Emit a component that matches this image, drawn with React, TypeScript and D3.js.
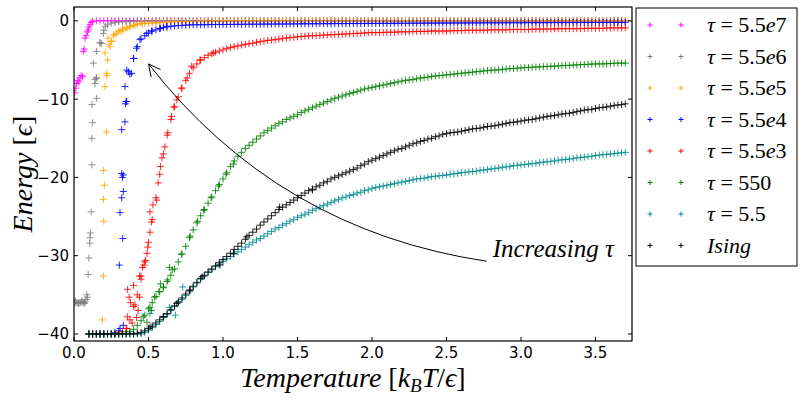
import React from "react";
import * as d3 from "d3";

// ---------- DATA ----------
const TEMPS = [
  0.1, 0.15, 0.2, 0.25, 0.3, 0.35, 0.4, 0.45, 0.5, 0.55, 0.6, 0.65, 0.7, 0.75, 0.8, 0.85, 0.9, 0.95,
  1.0, 1.05, 1.1, 1.15, 1.2, 1.25, 1.3, 1.35, 1.4, 1.45, 1.5, 1.55, 1.6, 1.65, 1.7, 1.75, 1.8, 1.85,
  1.9, 1.95, 2.0, 2.05, 2.1, 2.15, 2.2, 2.25, 2.3, 2.35, 2.4, 2.45, 2.5, 2.55, 2.6, 2.65, 2.7, 2.75,
  2.8, 2.85, 2.9, 2.95, 3.0, 3.05, 3.1, 3.15, 3.2, 3.25, 3.3, 3.35, 3.4, 3.45, 3.5, 3.55, 3.6, 3.65, 3.7,
];
const TEMPS_HALF = [
  0.125, 0.175, 0.225, 0.275, 0.325, 0.375, 0.425, 0.475, 0.525, 0.575, 0.625, 0.675, 0.725, 0.775, 0.825, 0.875, 0.925, 0.975,
  1.025, 1.075, 1.125, 1.175, 1.225, 1.275, 1.325, 1.375, 1.425, 1.475, 1.525, 1.575, 1.625, 1.675, 1.725, 1.775, 1.825, 1.875,
  1.925, 1.975, 2.025, 2.075, 2.125, 2.175, 2.225, 2.275, 2.325, 2.375, 2.425, 2.475, 2.525, 2.575, 2.625, 2.675, 2.725, 2.775,
  2.825, 2.875, 2.925, 2.975, 3.025, 3.075, 3.125, 3.175, 3.225, 3.275, 3.325, 3.375, 3.425, 3.475, 3.525, 3.575, 3.625, 3.675,
];

// tau = 5.5e7 (magenta)
const E_TAU_55E7 = [
  -0.8, 0, 0, 0, 0, 0, 0, 0, 0, 0, 0, 0, 0, 0, 0, 0, 0, 0,
  0, 0, 0, 0, 0, 0, 0, 0, 0, 0, 0, 0, 0, 0, 0, 0, 0, 0,
  0, 0, 0, 0, 0, 0, 0, 0, 0, 0, 0, 0, 0, 0, 0, 0, 0, 0,
  0, 0, 0, 0, 0, 0, 0, 0, 0, 0, 0, 0, 0, 0, 0, 0, 0, 0, 0,
];
const EH_TAU_55E7 = [
  -0.05, 0, 0, 0, 0, 0, 0, 0, 0, 0, 0, 0, 0, 0, 0, 0, 0, 0,
  0, 0, 0, 0, 0, 0, 0, 0, 0, 0, 0, 0, 0, 0, 0, 0, 0, 0,
  0, 0, 0, 0, 0, 0, 0, 0, 0, 0, 0, 0, 0, 0, 0, 0, 0, 0,
  0, 0, 0, 0, 0, 0, 0, 0, 0, 0, 0, 0, 0, 0, 0, 0, 0, 0,
];
const X_TAU_55E7 = [0.005, 0.012, 0.018, 0.025, 0.032, 0.04, 0.048, 0.058, 0.063, 0.068, 0.074, 0.082, 0.09, 0.096, 0.107, 0.115];
const Y_TAU_55E7 = [-9.2, -8.6, -8.0, -7.6, -7.8, -7.3, -7.0, -7.1, -3.9, -3.6, -2.2, -1.9, -1.4, -1.15, -0.5, -0.2];

// tau = 5.5e6 (gray)
const E_TAU_55E6 = [
  -30.3, -7.3, -1.2, -0.3, -0.15, -0.1, -0.05, 0, 0, 0, 0, 0, 0, 0, 0, 0, 0, 0,
  0, 0, 0, 0, 0, 0, 0, 0, 0, 0, 0, 0, 0, 0, 0, 0, 0, 0,
  0, 0, 0, 0, 0, 0, 0, 0, 0, 0, 0, 0, 0, 0, 0, 0, 0, 0,
  0, 0, 0, 0, 0, 0, 0, 0, 0, 0, 0, 0, 0, 0, 0, 0, 0, 0, 0,
];
const EH_TAU_55E6 = [
  -13.0, -2.8, -0.5, -0.2, -0.12, -0.08, -0.03, 0, 0, 0, 0, 0, 0, 0, 0, 0, 0, 0,
  0, 0, 0, 0, 0, 0, 0, 0, 0, 0, 0, 0, 0, 0, 0, 0, 0, 0,
  0, 0, 0, 0, 0, 0, 0, 0, 0, 0, 0, 0, 0, 0, 0, 0, 0, 0,
  0, 0, 0, 0, 0, 0, 0, 0, 0, 0, 0, 0, 0, 0, 0, 0, 0, 0,
];
const X_TAU_55E6 = [
  0.005, 0.015, 0.025, 0.035, 0.045, 0.055, 0.065, 0.075, 0.08, 0.085, 0.09, 0.095, 0.105, 0.107, 0.11,
  0.115, 0.12, 0.12, 0.12, 0.141, 0.13, 0.141, 0.152, 0.152, 0.152, 0.175, 0.186, 0.197, 0.21, 0.01, 0.03, 0.05, 0.07,
];
const Y_TAU_55E6 = [
  -36, -36, -36, -36, -36, -35.9, -36, -35.9, -35.6, -35.0, -35.3, -32.4, -28.4, -27.7, -27.1,
  -24.4, -18.4, -15.0, -10.7, -8.0, -5.4, -7.5, -9.9, -3.9, -7.3, -2.8, -2.9, -1.6, -0.7, -35.8, -36.1, -35.8, -36.1,
];

// tau = 5.5e5 (orange)
const E_TAU_55E5 = [
  -40, -40, -25.6, -2.6, -1.3, -0.9, -0.6, -0.35, -0.3, -0.25, -0.2, -0.15, -0.1, -0.1, -0.1, -0.05, -0.05, -0.05,
  0, 0, 0, 0, 0, 0, 0, 0, 0, 0, 0, 0, 0, 0, 0, 0, 0, 0,
  0, 0, 0, 0, 0, 0, 0, 0, 0, 0, 0, 0, 0, 0, 0, 0, 0, 0,
  0, 0, 0, 0, 0, 0, 0, 0, 0, 0, 0, 0, 0, 0, 0, 0, 0, 0, 0,
];
const EH_TAU_55E5 = [
  -40, -40, -5.0, -1.8, -1.1, -0.75, -0.45, -0.32, -0.28, -0.22, -0.18, -0.12, -0.1, -0.1, -0.08, -0.05, -0.05, -0.02,
  0, 0, 0, 0, 0, 0, 0, 0, 0, 0, 0, 0, 0, 0, 0, 0, 0, 0,
  0, 0, 0, 0, 0, 0, 0, 0, 0, 0, 0, 0, 0, 0, 0, 0, 0, 0,
  0, 0, 0, 0, 0, 0, 0, 0, 0, 0, 0, 0, 0, 0, 0, 0, 0, 0,
];
const X_TAU_55E5 = [0.19, 0.197, 0.197, 0.204, 0.197, 0.219, 0.208, 0.22, 0.22, 0.208, 0.242, 0.253, 0.235, 0.228, 0.265, 0.287, 0.31, 0.33, 0.355, 0.376, 0.41, 0.46];
const Y_TAU_55E5 = [-38.2, -32.6, -19.1, -21.0, -22.8, -14.2, -8.4, -7.0, -6.7, -4.1, -3.3, -2.6, -3.0, -2.2, -1.8, -1.6, -1.3, -1.15, -0.9, -0.7, -0.5, -0.3];

// tau = 5.5e4 (blue)
const E_TAU_55E4 = [
  -40, -40, -40, -40, -39.6, -10.3, -4.8, -2.3, -1.55, -1.15, -0.85, -0.7, -0.6, -0.55, -0.5, -0.5, -0.48, -0.47,
  -0.46, -0.45, -0.44, -0.43, -0.42, -0.42, -0.41, -0.4, -0.4, -0.39, -0.38,
  -0.37, -0.37, -0.36, -0.36, -0.35, -0.35, -0.34, -0.34, -0.33, -0.33, -0.32, -0.32, -0.31, -0.31, -0.3,
  -0.3, -0.29, -0.29, -0.28, -0.28, -0.27, -0.27, -0.26, -0.26, -0.25, -0.25, -0.25, -0.24, -0.24, -0.24,
  -0.23, -0.23, -0.23, -0.22, -0.22, -0.22, -0.21, -0.21, -0.21, -0.21, -0.2, -0.2, -0.2, -0.2,
];
const EH_TAU_55E4 = [
  -40, -40, -40, -39.8, -20.0, -6.8, -3.3, -1.9, -1.3, -1.0, -0.78, -0.65, -0.58, -0.52, -0.5, -0.49, -0.48, -0.46,
  -0.46, -0.45, -0.44, -0.43, -0.42, -0.41, -0.41, -0.4, -0.4, -0.39, -0.38, -0.37,
  -0.37, -0.36, -0.36, -0.35, -0.35, -0.34, -0.34, -0.33, -0.33, -0.32,
  -0.32, -0.31, -0.31, -0.3, -0.3, -0.29, -0.29, -0.28, -0.28, -0.27,
  -0.27, -0.26, -0.26, -0.25, -0.25, -0.25, -0.24, -0.24, -0.24, -0.23,
  -0.23, -0.23, -0.22, -0.22, -0.22, -0.21, -0.21, -0.21, -0.21, -0.2, -0.2, -0.2,
];
const X_TAU_55E4 = [0.32, 0.331, 0.331, 0.32, 0.309, 0.327, 0.304, 0.331, 0.309, 0.32, 0.342, 0.354, 0.345, 0.342, 0.365, 0.387, 0.354, 0.4, 0.42, 0.443, 0.488, 0.52, 0.58, 0.62];
const Y_TAU_55E4 = [-19.5, -19.7, -21.8, -22.6, -24.5, -27.8, -31.2, -38.9, -39.3, -13.9, -12.9, -10.3, -10.6, -8.4, -6.5, -6.7, -6.3, -4.8, -3.5, -2.4, -1.6, -1.3, -0.95, -0.7];

// tau = 5.5e3 (red)
const E_TAU_55E3 = [
  -40, -40, -40, -40, -39.9, -39.3, -36.5, -33.0, -28.3, -22.6, -17.0, -12.6, -9.7, -7.6, -6.0, -5.0, -4.4, -4.0,
  -3.7, -3.4, -3.2, -3.0, -2.85, -2.65, -2.5, -2.4, -2.25, -2.15, -2.05,
  -1.95, -1.9, -1.85, -1.8, -1.75, -1.7, -1.65, -1.6, -1.55, -1.5, -1.5, -1.45, -1.45, -1.4, -1.4,
  -1.35, -1.35, -1.3, -1.3, -1.3, -1.25, -1.25, -1.2, -1.2, -1.2, -1.15, -1.15, -1.15, -1.1, -1.1,
  -1.1, -1.05, -1.05, -1.05, -1.0, -1.0, -1.0, -1.0, -0.95, -0.95, -0.95, -0.9, -0.9, -0.9,
];
const EH_TAU_55E3 = [
  -40, -40, -40, -40, -39.7, -38.2, -35.0, -30.8, -25.4, -19.6,
  -14.6, -11.0, -8.6, -6.7, -5.5, -4.7, -4.2, -3.85, -3.55, -3.3,
  -3.1, -2.92, -2.75, -2.58, -2.45, -2.32, -2.2, -2.1, -2.0, -1.92,
  -1.88, -1.82, -1.78, -1.72, -1.68, -1.62, -1.58, -1.52, -1.5, -1.48,
  -1.45, -1.42, -1.4, -1.38, -1.35, -1.32, -1.3, -1.3, -1.28, -1.25,
  -1.22, -1.2, -1.2, -1.18, -1.15, -1.15, -1.12, -1.1, -1.1, -1.08,
  -1.05, -1.05, -1.02, -1.0, -1.0, -1.0, -0.98, -0.95, -0.95, -0.92, -0.9, -0.9,
];
const X_TAU_55E3 = [
  0.36, 0.37, 0.44, 0.41, 0.43, 0.36, 0.42, 0.39, 0.355, 0.45, 0.44, 0.48, 0.47, 0.495, 0.51, 0.52, 0.51,
  0.555, 0.565, 0.58, 0.61, 0.63, 0.655, 0.69, 0.72, 0.76, 0.79, 0.845, 0.935, 0.53, 0.59, 0.67, 0.46, 0.49, 0.4, 0.38,
];
const Y_TAU_55E3 = [
  -34.3, -35.3, -35.3, -36.3, -37.0, -37.8, -37.9, -38.6, -39.3, -32.6, -32.6, -30.6, -31.2, -28.9, -27.0, -25.7, -24.4,
  -22.9, -20.7, -18.6, -16.1, -14.3, -12.2, -10.1, -8.6, -7.3, -5.8, -5.0, -4.1, -23.5, -17.5, -11.0, -31.5, -29.7, -33.8, -36.0,
];

// tau = 550 (green)
const E_TAU_550 = [
  -40, -40, -40, -40, -40, -39.9, -39.4, -38.3, -36.8, -35.2, -34.0, -32.5, -30.8, -28.8, -26.7, -24.9, -23.3, -21.7,
  -20.2, -18.6, -17.3, -16.3, -15.5, -14.7, -14.0, -13.4, -12.9, -12.4, -12.0,
  -11.5, -11.1, -10.7, -10.3, -9.9, -9.6, -9.3, -9.0, -8.7, -8.5, -8.3, -8.1, -7.9, -7.7, -7.55,
  -7.4, -7.25, -7.1, -7.0, -6.9, -6.8, -6.7, -6.6, -6.5, -6.4, -6.3, -6.25, -6.15, -6.1, -6.0,
  -5.95, -5.9, -5.85, -5.8, -5.75, -5.7, -5.65, -5.6, -5.55, -5.5, -5.5, -5.45, -5.4, -5.4,
];
const EH_TAU_550 = [
  -40, -40, -40, -40, -40, -39.7, -38.9, -37.6, -36.0, -34.6,
  -33.3, -31.7, -29.8, -27.7, -25.8, -24.1, -22.5, -20.9, -19.4, -17.9,
  -16.8, -15.9, -15.1, -14.3, -13.7, -13.1, -12.6, -12.2, -11.7, -11.3,
  -10.9, -10.5, -10.1, -9.75, -9.45, -9.15, -8.85, -8.6, -8.4, -8.2,
  -8.0, -7.8, -7.6, -7.5, -7.3, -7.2, -7.05, -6.95, -6.85, -6.75,
  -6.65, -6.55, -6.45, -6.35, -6.3, -6.2, -6.1, -6.05, -5.98, -5.92,
  -5.88, -5.82, -5.78, -5.72, -5.68, -5.62, -5.58, -5.52, -5.5, -5.48, -5.42, -5.4,
];
const X_TAU_550 = [0.465, 0.49, 0.51, 0.54, 0.57, 0.6, 0.63, 0.66, 0.72, 0.78, 0.83, 0.87, 0.92, 0.97, 1.02, 1.07, 0.64, 0.52, 0.58];
const Y_TAU_550 = [-37.8, -38.5, -36.6, -35.3, -34.6, -34.1, -33.1, -31.8, -29.8, -27.5, -25.6, -24.2, -22.6, -21.1, -19.6, -18.3, -31.5, -37.0, -33.6];

// tau = 5.5 (teal)
const E_TAU_5_5 = [
  -40, -40, -40, -40, -40, -40, -40, -40, -39.5, -38.8, -37.9, -37.0, -36.0, -35.1, -34.0, -33.0, -32.1, -31.4,
  -30.7, -30.1, -29.5, -28.9, -28.3, -27.8, -27.2, -26.6, -26.1, -25.6, -25.1,
  -24.7, -24.2, -23.8, -23.4, -23.0, -22.6, -22.3, -22.0, -21.7, -21.4, -21.2, -21.0, -20.8, -20.6, -20.4,
  -20.2, -20.1, -19.9, -19.8, -19.7, -19.55, -19.4, -19.3, -19.2, -19.05, -18.9, -18.8, -18.65, -18.5, -18.4,
  -18.3, -18.2, -18.05, -17.95, -17.8, -17.7, -17.6, -17.45, -17.35, -17.2, -17.1, -17.0, -16.9, -16.8,
];
const EH_TAU_5_5 = [
  -40, -40, -40, -40, -40, -40, -40, -39.8, -39.2, -38.4,
  -37.5, -36.5, -35.6, -34.6, -33.5, -32.6, -31.8, -31.1, -30.4, -29.8,
  -29.2, -28.6, -28.0, -27.5, -26.9, -26.4, -25.9, -25.4, -24.9, -24.5,
  -24.0, -23.6, -23.2, -22.8, -22.5, -22.2, -21.9, -21.6, -21.3, -21.1,
  -20.9, -20.7, -20.5, -20.3, -20.15, -20.0, -19.85, -19.75, -19.6, -19.5,
  -19.35, -19.25, -19.1, -19.0, -18.85, -18.7, -18.6, -18.45, -18.35, -18.25,
  -18.1, -18.0, -17.9, -17.75, -17.65, -17.5, -17.4, -17.3, -17.15, -17.05, -16.95, -16.85,
];
const X_TAU_5_5 = [0.73, 0.68, 0.51, 0.64];
const Y_TAU_5_5 = [-34.0, -37.6, -37.4, -36.6];

// Ising (black)
const E_ISING = [
  -40, -40, -40, -40, -40, -40, -40, -39.8, -39.3, -38.6, -37.8, -36.9, -35.9, -34.9, -33.9, -32.9, -32.1, -31.3,
  -30.5, -29.7, -28.8, -27.9, -27.0, -26.1, -25.3, -24.5, -23.8, -23.2, -22.6,
  -22.0, -21.5, -21.0, -20.5, -20.0, -19.6, -19.2, -18.8, -18.3, -17.8, -17.4, -17.0, -16.6, -16.3, -15.9,
  -15.6, -15.3, -15.0, -14.7, -14.4, -14.25, -14.1, -13.9, -13.75, -13.6, -13.45, -13.3, -13.1, -12.95, -12.8,
  -12.65, -12.5, -12.3, -12.15, -12.0, -11.85, -11.7, -11.5, -11.35, -11.2, -11.05, -10.9, -10.75, -10.6,
];
const EH_ISING = [
  -40, -40, -40, -40, -40, -40, -39.9, -39.6, -39.0, -38.2,
  -37.4, -36.4, -35.4, -34.4, -33.4, -32.5, -31.7, -30.9, -30.1, -29.2,
  -28.4, -27.4, -26.6, -25.7, -24.9, -24.1, -23.5, -22.9, -22.3, -21.7,
  -21.2, -20.7, -20.2, -19.8, -19.4, -19.0, -18.5, -18.0, -17.6, -17.2,
  -16.8, -16.4, -16.1, -15.7, -15.4, -15.1, -14.8, -14.5, -14.3, -14.2,
  -14.0, -13.8, -13.7, -13.5, -13.4, -13.2, -13.0, -12.9, -12.7, -12.6,
  -12.4, -12.2, -12.1, -11.9, -11.8, -11.6, -11.4, -11.3, -11.1, -11.0, -10.8, -10.7,
];
const X_ISING = [0.51, 0.6, 0.69, 0.78, 0.86, 0.98, 1.07, 1.16, 1.38, 1.6];
const Y_ISING = [-39.1, -37.8, -36.1, -34.4, -32.7, -31.2, -29.7, -27.6, -23.8, -21.6];

const LEGEND_LABELS = ["τ=5.5e7", "τ=5.5e6", "τ=5.5e5", "τ=5.5e4", "τ=5.5e3", "τ=550", "τ=5.5", "Ising"];
const SERIES_COLORS = ["#ff00ff", "#808080", "#ffa500", "#0000ff", "#ff0000", "#008000", "#008b8b", "#000000"];
const SERIES_GRID = [E_TAU_55E7, E_TAU_55E6, E_TAU_55E5, E_TAU_55E4, E_TAU_55E3, E_TAU_550, E_TAU_5_5, E_ISING];
const SERIES_HALF = [EH_TAU_55E7, EH_TAU_55E6, EH_TAU_55E5, EH_TAU_55E4, EH_TAU_55E3, EH_TAU_550, EH_TAU_5_5, EH_ISING];
const SERIES_EXTRA_X = [X_TAU_55E7, X_TAU_55E6, X_TAU_55E5, X_TAU_55E4, X_TAU_55E3, X_TAU_550, X_TAU_5_5, X_ISING];
const SERIES_EXTRA_Y = [Y_TAU_55E7, Y_TAU_55E6, Y_TAU_55E5, Y_TAU_55E4, Y_TAU_55E3, Y_TAU_550, Y_TAU_5_5, Y_ISING];

const X_TICKS = [0, 0.5, 1.0, 1.5, 2.0, 2.5, 3.0, 3.5];
const Y_TICKS = [0, -10, -20, -30, -40];
const X_DOMAIN = [0, 3.745];
const Y_DOMAIN = [-40.9, 1.77];
const ANNOT_XY = [0.5, -5.5];
const ANNOT_TEXT_POS = [2.81, -30.2];
const ANNOT_TEXT = "Increasing ";

// ---------- LAYOUT ----------
const W = 804;
const H = 402;
const PL = 74, PR = 632, PT = 7, PB = 341;
const SERIF = "'Liberation Serif', 'DejaVu Serif', serif";
const SANS = "'DejaVu Sans', sans-serif";

function LegendLabel({ label, x, y }: { label: string; x: number; y: number }) {
  if (label.startsWith("τ=")) {
    const val = label.slice(2);
    const parts = val.split("e");
    return (
      <text x={x} y={y} fontFamily={SERIF} fontSize={22} fill="#000">
        <tspan fontStyle="italic">τ</tspan>
        <tspan> = </tspan>
        <tspan>{parts[0]}</tspan>
        {parts.length > 1 && <tspan fontStyle="italic">e</tspan>}
        {parts.length > 1 && <tspan>{parts[1]}</tspan>}
      </text>
    );
  }
  return (
    <text x={x} y={y} fontFamily={SERIF} fontSize={22} fontStyle="italic" fill="#000">
      {label}
    </text>
  );
}

export default function App() {
  const x = d3.scaleLinear().domain(X_DOMAIN).range([PL, PR]);
  const y = d3.scaleLinear().domain(Y_DOMAIN).range([PB, PT]);
  const plus = (s: number) => `M${-s},0H${s}M0,${-s}V${s}`;

  const series = SERIES_GRID.map((grid, k) => {
    const pts: [number, number][] = [];
    grid.forEach((e, i) => {
      if (i < TEMPS.length) pts.push([TEMPS[i], e]);
    });
    SERIES_HALF[k].forEach((e, i) => {
      if (i < TEMPS_HALF.length) pts.push([TEMPS_HALF[i], e]);
    });
    SERIES_EXTRA_X[k].forEach((t, i) => {
      if (i < SERIES_EXTRA_Y[k].length) pts.push([t, SERIES_EXTRA_Y[k][i]]);
    });
    return pts;
  });

  // annotation arrow (arc3-like quadratic curve)
  const tx = x(ANNOT_TEXT_POS[0]);
  const ty = y(ANNOT_TEXT_POS[1]);
  const sx = tx - 6, sy = ty + 4;
  const ex = x(ANNOT_XY[0]), ey = y(ANNOT_XY[1]);
  const dx = ex - sx, dy = ey - sy;
  const rad = 0.2;
  const cx = (sx + ex) / 2 + rad * dy;
  const cy = (sy + ey) / 2 - rad * dx;
  const qpath = d3.path();
  qpath.moveTo(sx, sy);
  qpath.quadraticCurveTo(cx, cy, ex, ey);
  const tdx = ex - cx, tdy = ey - cy;
  const tl = Math.hypot(tdx, tdy);
  const ux = tdx / tl, uy = tdy / tl;
  const bx = ex - ux * 12, by = ey - uy * 12;
  const w1 = [bx - uy * 6, by + ux * 6];
  const w2 = [bx + uy * 6, by - ux * 6];

  const legendX = 636, legendY = 8, legendW = 161, legendH = 258;

  return (
    <div style={{ position: "absolute", left: 0, top: 0 }}>
      <svg width={W} height={H} viewBox={`0 0 ${W} ${H}`} style={{ display: "block", background: "#fff" }}>
        <rect x={0} y={0} width={W} height={H} fill="#fff" />
        <defs>
          <clipPath id="plotclip">
            <rect x={PL} y={PT} width={PR - PL} height={PB - PT} />
          </clipPath>
        </defs>
        <g clipPath="url(#plotclip)">
          {series.map((pts, k) => (
            <g key={k} stroke={SERIES_COLORS[k]} strokeWidth={1} strokeOpacity={0.85} fill="none">
              {pts.map((p, i) => (
                <path key={i} d={plus(3.5)} transform={`translate(${x(p[0])},${y(p[1])})`} />
              ))}
            </g>
          ))}
          <path d={qpath.toString()} stroke="#000" strokeWidth={1} fill="none" />
          <polyline
            points={`${w1[0]},${w1[1]} ${ex},${ey} ${w2[0]},${w2[1]}`}
            stroke="#000"
            strokeWidth={1}
            fill="none"
          />
        </g>
        <text x={tx} y={ty} fontFamily={SERIF} fontSize={25} fontStyle="italic" fill="#000">
          {ANNOT_TEXT}
          <tspan>τ</tspan>
        </text>

        {/* frame */}
        <rect x={PL} y={PT} width={PR - PL} height={PB - PT} fill="none" stroke="#000" strokeWidth={1.2} />
        {/* x ticks */}
        {X_TICKS.map((t) => (
          <g key={"xt" + t}>
            <line x1={x(t)} x2={x(t)} y1={PB} y2={PB - 4} stroke="#000" />
            <line x1={x(t)} x2={x(t)} y1={PT} y2={PT + 4} stroke="#000" />
            <text x={x(t)} y={358} textAnchor="middle" fontFamily={SANS} fontSize={15} fill="#000">
              {t.toFixed(1)}
            </text>
          </g>
        ))}
        {/* y ticks */}
        {Y_TICKS.map((t) => (
          <g key={"yt" + t}>
            <line x1={PL} x2={PL + 4} y1={y(t)} y2={y(t)} stroke="#000" />
            <line x1={PR} x2={PR - 4} y1={y(t)} y2={y(t)} stroke="#000" />
            <text x={69} y={y(t)} dy="0.36em" textAnchor="end" fontFamily={SANS} fontSize={15} fill="#000">
              {t < 0 ? "\u2212" + Math.abs(t) : String(t)}
            </text>
          </g>
        ))}

        {/* axis labels */}
        <text x={353} y={387} textAnchor="middle" fontFamily={SERIF} fontSize={28} fill="#000">
          <tspan fontStyle="italic">Temperature</tspan>
          <tspan> [</tspan>
          <tspan fontStyle="italic">k</tspan>
          <tspan fontStyle="italic" fontSize={19} dy={5}>B</tspan>
          <tspan fontStyle="italic" dy={-5}>T</tspan>
          <tspan>/</tspan>
          <tspan fontStyle="italic">ϵ</tspan>
          <tspan>]</tspan>
        </text>
        <text
          transform={`translate(32,${(PT + PB) / 2}) rotate(-90)`}
          textAnchor="middle"
          fontFamily={SERIF}
          fontSize={28}
          fill="#000"
        >
          <tspan fontStyle="italic">Energy</tspan>
          <tspan> [</tspan>
          <tspan fontStyle="italic">ϵ</tspan>
          <tspan>]</tspan>
        </text>

        {/* legend */}
        <rect x={legendX} y={legendY} width={legendW} height={legendH} fill="#fff" stroke="#000" strokeWidth={1} />
        {LEGEND_LABELS.map((lab, i) => {
          const ry = 25 + 31.5 * i;
          return (
            <g key={lab}>
              <path d={plus(2.5)} transform={`translate(650,${ry})`} stroke={SERIES_COLORS[i]} strokeWidth={1} />
              <path d={plus(2.5)} transform={`translate(681,${ry})`} stroke={SERIES_COLORS[i]} strokeWidth={1} />
              <LegendLabel label={lab} x={707} y={ry + 7} />
            </g>
          );
        })}
      </svg>
    </div>
  );
}
